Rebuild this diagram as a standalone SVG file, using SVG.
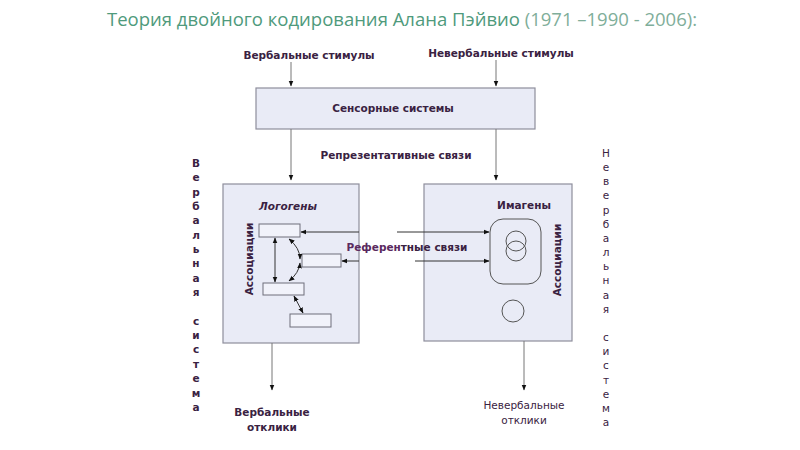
<svg xmlns="http://www.w3.org/2000/svg" width="800" height="450" viewBox="0 0 800 450">
<defs>
<marker id="ah" viewBox="0 0 10 10" refX="9" refY="5" markerWidth="6" markerHeight="6" orient="auto-start-reverse" markerUnits="userSpaceOnUse">
<path d="M0,1 L10,5 L0,9 z" fill="#111"/>
</marker>
<style>
.title{font-family:"Open Sans","Liberation Sans",sans-serif;font-size:18.5px;fill:#4f9a7c}
.lbl{font-family:"DejaVu Sans",Verdana,sans-serif;font-size:10.5px;font-weight:bold;fill:#3a2242}
.lbn{font-family:"DejaVu Sans",Verdana,sans-serif;font-size:10.5px;fill:#3a2242}
.box{fill:#e9ebf6;stroke:#8e8e9c;stroke-width:1.2}
.sm{fill:#f1f2fa;stroke:#6e6e7a;stroke-width:1}
.ln{stroke:#333;stroke-width:1;fill:none}
.vt{font-family:"DejaVu Sans",Verdana,sans-serif;font-size:10.5px;fill:#3a2242;text-anchor:middle}
</style>
</defs>
<rect width="800" height="450" fill="#ffffff"/>
<text class="title" x="107" y="26">Теория двойного кодирования Алана Пэйвио <tspan fill="#7fae9a">(1971 –1990 - 2006):</tspan></text>

<g id="stim-verbal"><text class="lbl" x="309" y="59" text-anchor="middle">Вербальные стимулы</text></g>
<g id="stim-nonverbal"><text class="lbl" x="501" y="57" text-anchor="middle">Невербальные стимулы</text></g>

<g id="sensory">
<rect class="box" x="256" y="88" width="279" height="41"/>
<text class="lbl" x="393" y="112" text-anchor="middle">Сенсорные системы</text>
</g>

<g id="repr-label"><text class="lbl" x="396" y="159" text-anchor="middle">Репрезентативные связи</text></g>

<g id="logogens">
<rect class="box" x="223" y="184" width="136" height="159"/>
<text class="lbl" x="288" y="210" text-anchor="middle" font-style="italic">Логогены</text>
<text class="lbl" x="253" y="259" text-anchor="middle" transform="rotate(-90 253 259)">Ассоциации</text>
<rect class="sm" x="259" y="224" width="41" height="13"/>
<rect class="sm" x="302" y="254" width="39" height="13"/>
<rect class="sm" x="263" y="283" width="41" height="12"/>
<rect class="sm" x="290" y="314" width="41" height="13"/>
</g>

<g id="imagens">
<rect class="box" x="424" y="184" width="148" height="157"/>
<text class="lbl" x="524" y="209" text-anchor="middle">Имагены</text>
<text class="lbl" x="561" y="260" text-anchor="middle" transform="rotate(-90 561 260)">Ассоциации</text>
<rect x="490" y="219" width="51" height="65" rx="13" fill="none" stroke="#555" stroke-width="1"/>
<circle cx="516" cy="241" r="10" fill="none" stroke="#555" stroke-width="1"/>
<circle cx="516" cy="251" r="10" fill="none" stroke="#555" stroke-width="1"/>
<circle cx="513" cy="311" r="11" fill="none" stroke="#555" stroke-width="1"/>
</g>

<g id="ref-label"><text class="lbl" x="407" y="251" text-anchor="middle"><tspan fill="#5a2a60">Референ</tspan>тные связи</text></g>

<g id="resp-verbal">
<text class="lbl" x="272" y="416" text-anchor="middle">Вербальные</text>
<text class="lbl" x="272" y="431" text-anchor="middle">отклики</text>
</g>
<g id="resp-nonverbal">
<text class="lbn" x="524" y="409" text-anchor="middle">Невербальные</text>
<text class="lbn" x="524" y="424" text-anchor="middle">отклики</text>
</g>

<g id="verbal-system" class="vt" font-weight="bold">
<text x="196" y="167">В</text><text x="196" y="181">е</text><text x="196" y="196">р</text><text x="196" y="210">б</text><text x="196" y="224">а</text><text x="196" y="239">л</text><text x="196" y="253">ь</text><text x="196" y="267">н</text><text x="196" y="282">а</text><text x="196" y="296">я</text>
<text x="196" y="325">с</text><text x="196" y="339">и</text><text x="196" y="353">с</text><text x="196" y="368">т</text><text x="196" y="382">е</text><text x="196" y="397">м</text><text x="196" y="411">а</text>
</g>
<g id="nonverbal-system" class="vt">
<text x="606" y="157">Н</text><text x="606" y="171">е</text><text x="606" y="185">в</text><text x="606" y="199">е</text><text x="606" y="214">р</text><text x="606" y="228">б</text><text x="606" y="242">а</text><text x="606" y="256">л</text><text x="606" y="270">ь</text><text x="606" y="284">н</text><text x="606" y="299">а</text><text x="606" y="313">я</text>
<text x="606" y="341">с</text><text x="606" y="355">и</text><text x="606" y="369">с</text><text x="606" y="384">т</text><text x="606" y="398">е</text><text x="606" y="412">м</text><text x="606" y="426">а</text>
</g>

<g id="connectors" class="ln">
<line x1="291" y1="62" x2="291" y2="86" stroke="#777" marker-end="url(#ah)"/>
<line x1="496" y1="60" x2="496" y2="86" stroke="#777" marker-end="url(#ah)"/>
<line x1="291" y1="129" x2="291" y2="180" stroke="#777" marker-end="url(#ah)"/>
<line x1="496" y1="129" x2="496" y2="180" stroke="#777" marker-end="url(#ah)"/>
<line x1="272" y1="343" x2="272" y2="390" stroke="#777" marker-end="url(#ah)"/>
<line x1="524" y1="341" x2="524" y2="390" stroke="#777" marker-end="url(#ah)"/>
<line x1="359" y1="232" x2="301" y2="232" marker-end="url(#ah)"/>
<line x1="359" y1="261" x2="342" y2="261" marker-end="url(#ah)"/>
<line x1="397" y1="232" x2="489" y2="232" marker-end="url(#ah)"/>
<line x1="415" y1="261" x2="489" y2="261" marker-end="url(#ah)"/>
<line x1="275" y1="238" x2="275" y2="282" marker-start="url(#ah)" marker-end="url(#ah)"/>
<path d="M289,239 Q300,248 300,259" marker-start="url(#ah)" marker-end="url(#ah)"/>
<path d="M300,263 Q299,273 289,281" marker-start="url(#ah)" marker-end="url(#ah)"/>
<line x1="294" y1="296" x2="303" y2="313" marker-start="url(#ah)" marker-end="url(#ah)"/>
</g>
</svg>
